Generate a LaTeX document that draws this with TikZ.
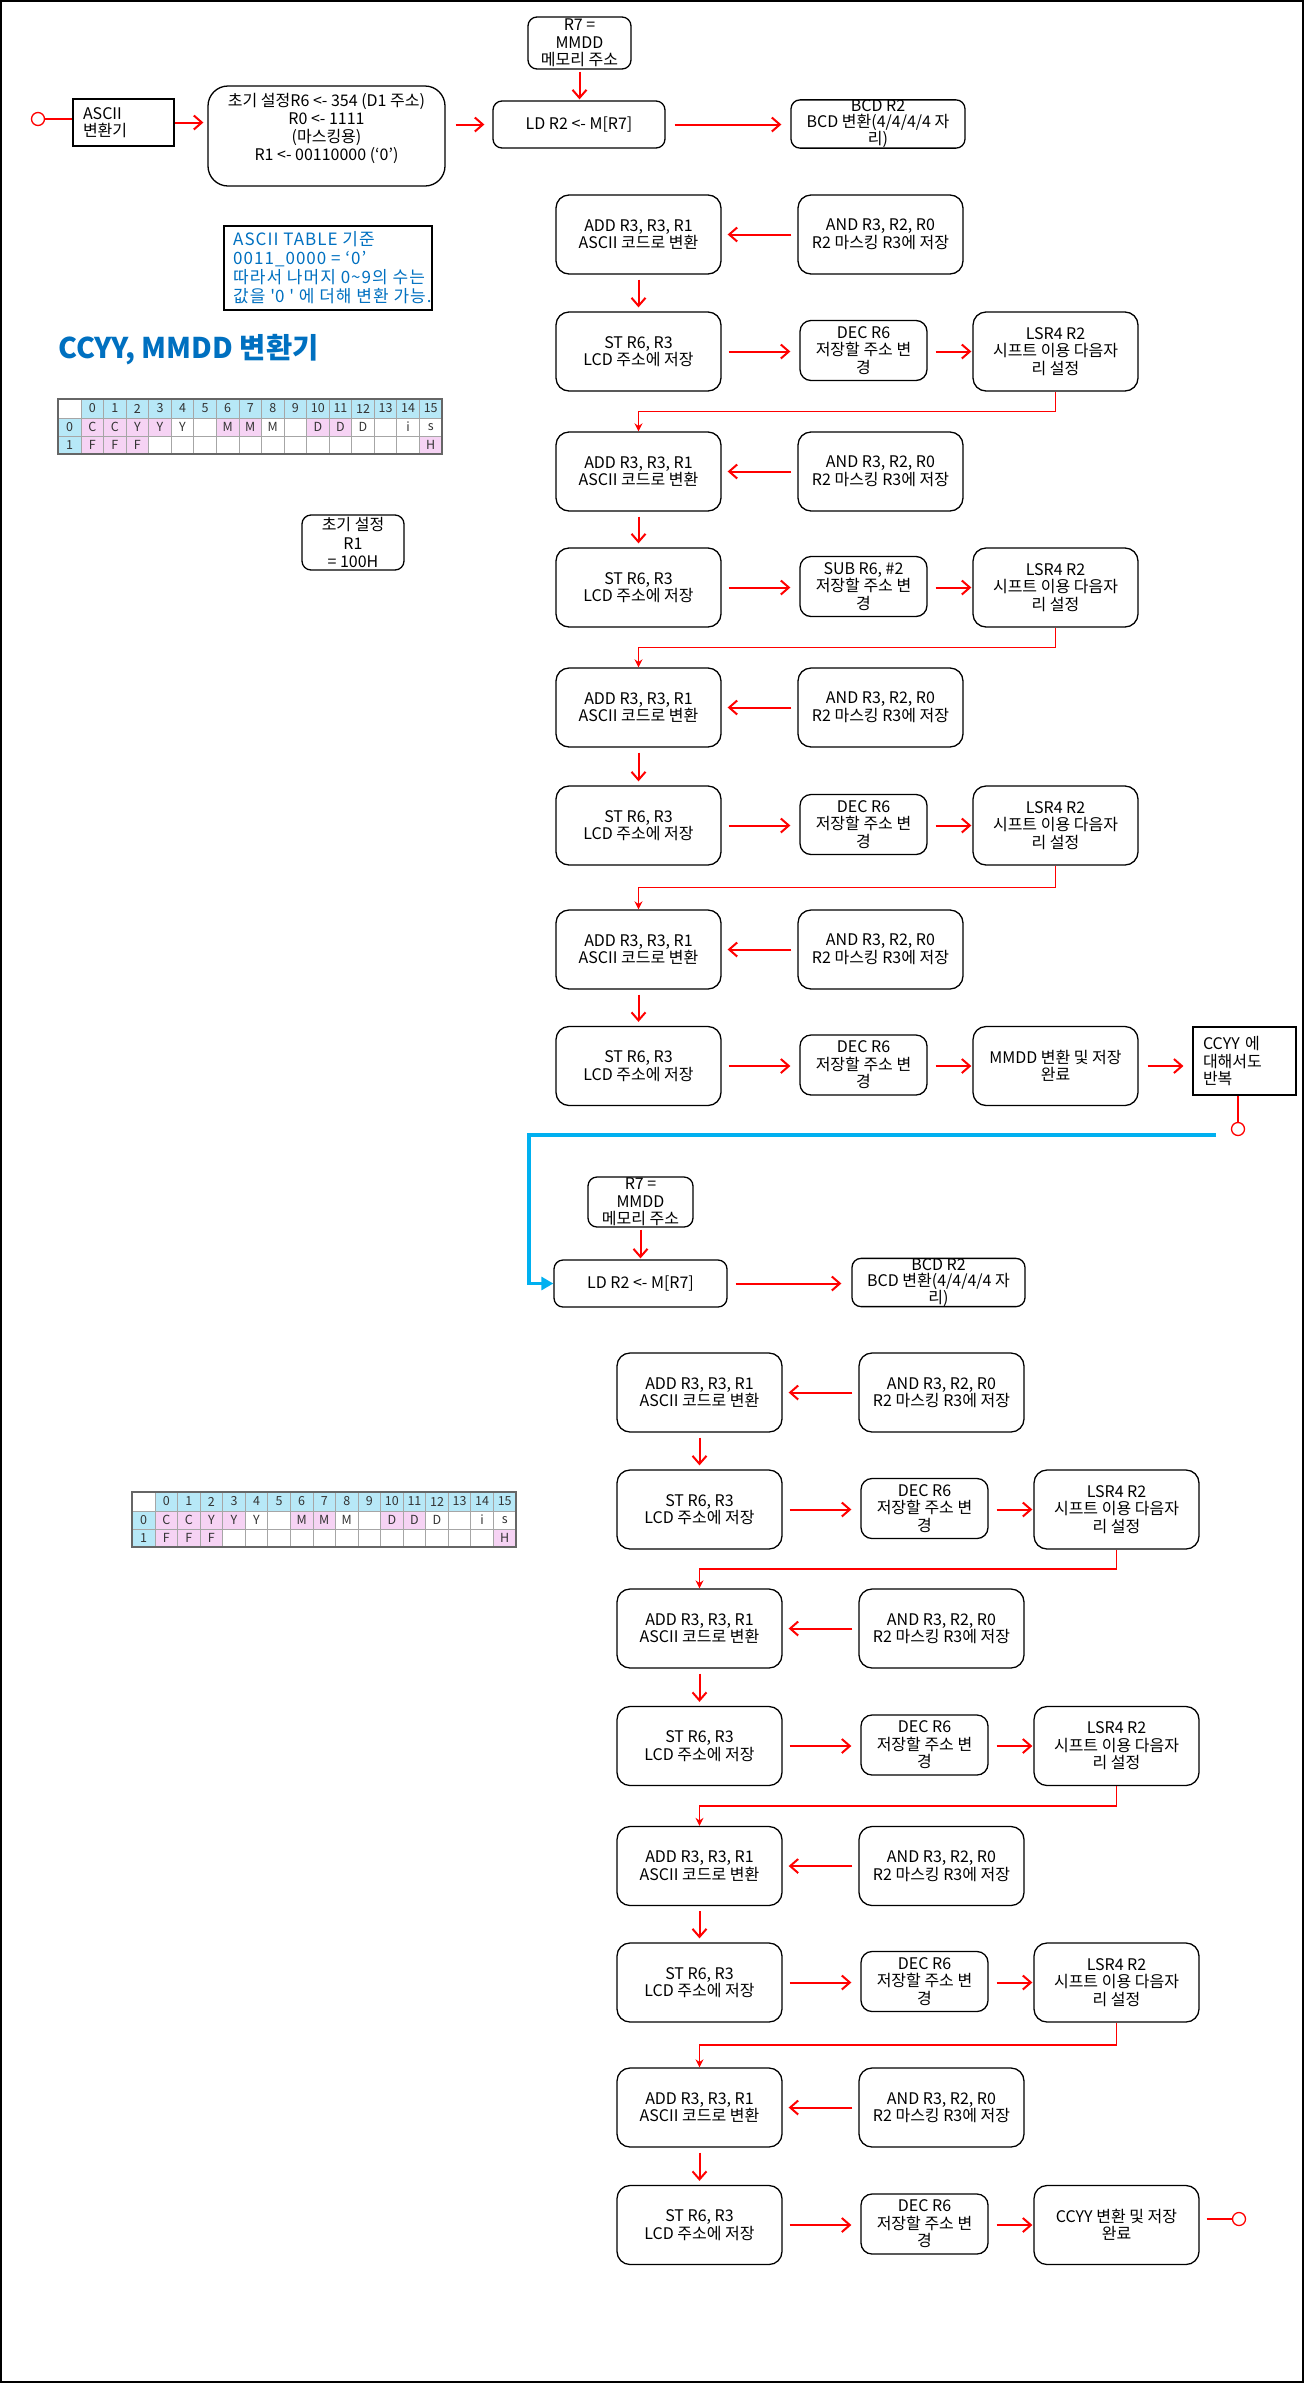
\documentclass[tikz,border=0pt]{standalone}
\usepackage{fontspec}
\setmainfont{Noto Sans CJK KR}
\usetikzlibrary{arrows.meta,calc}

\definecolor{tblue}{HTML}{0070C0}
\definecolor{lineblue}{HTML}{00B0F0}
\definecolor{hdrcyan}{HTML}{B7E8F7}
\definecolor{markpink}{HTML}{F6D3F4}
\definecolor{gridgray}{HTML}{A6A6A6}

\newcommand\boxfnt{\fontsize{16}{17.5}\selectfont}
\newcommand\notefnt{\fontsize{17}{19}\selectfont\addfontfeature{LetterSpace=6}}
\newcommand\cellfnt{\fontsize{12.5}{14}\selectfont}
\newcommand\titlefnt{\fontsize{28.5}{32}\selectfont\bfseries}

\tikzset{
  pbox/.style={draw, line width=1.3pt, align=center, inner sep=0pt, font=\boxfnt},
  big/.style={pbox, rounded corners=13pt, minimum width=165pt, minimum height=79pt},
  mid/.style={pbox, rounded corners=11pt, minimum width=127pt, minimum height=60pt},
  flat/.style={pbox, rounded corners=9pt},
  sq/.style={draw, line width=1.1pt, align=left, inner ysep=0pt, inner xsep=10pt, font=\boxfnt},
  arr/.style={draw=red, line width=2pt, -{Straight Barb[length=8pt,width=14pt]}, shorten <=6pt, shorten >=6pt},
  elbow/.style={draw=red, line width=1.8pt, -{Stealth[length=8pt,width=8pt]}},
  redline/.style={draw=red, line width=2pt},
  term/.style={circle, draw=red, line width=1.3pt, fill=white, minimum size=13pt, inner sep=0pt},
  loopline/.style={draw=lineblue, line width=3.5pt, -{Triangle[length=12pt,width=13pt]}},
  cell/.style={inner sep=0pt, font=\cellfnt, text=black!80},
}

% one conversion step: ADD / AND on the upper row, ST / DEC / next step on the lower row
% #1 id, #2 x of left column, #3 y of upper row, #4 y of lower row, #5 middle text, #6 right text
\newcommand\flowstage[6]{%
  \node[big] (add#1) at (#2,#3) {ADD R3, R3, R1\\ASCII 코드로 변환};
  \node[big] (and#1) at ({#2+242},#3) {AND R3, R2, R0\\R2 마스킹 R3에 저장};
  \node[big] (st#1) at (#2,#4) {ST R6, R3\\LCD 주소에 저장};
  \node[mid] (dec#1) at ({#2+225},{#4-1}) {#5};
  \node[big] (rt#1) at ({#2+417},#4) {#6};
  \draw[arr] (and#1) -- (add#1);
  \draw[arr, shorten <=5pt, shorten >=4pt] (add#1) -- (st#1);
  \draw[arr, shorten <=7pt, shorten >=9pt] (st#1.east) -- (st#1.east -| dec#1.west);
  \draw[arr, shorten <=8pt, shorten >=1pt] (dec#1.east |- st#1) -- (st#1 -| rt#1.west);
}

% memory layout table, #1 name prefix, #2/#3 top-left corner
\newcommand\bittable[3]{%
\begin{scope}[shift={(#2,#3)}]
  \fill[hdrcyan] (23,0) rectangle (384,19);
  \fill[hdrcyan] (0,19) rectangle (23,55);
  \foreach \c in {0,1,2,3,6,7,10,11}
    \fill[markpink] ({23+22.5625*\c},19) rectangle ({23+22.5625*(\c+1)},37);
  \foreach \c in {0,1,2,15}
    \fill[markpink] ({23+22.5625*\c},37) rectangle ({23+22.5625*(\c+1)},55);
  \foreach \c in {0,...,15}
    \draw[gridgray, line width=0.8pt] ({23+22.5625*\c},0) -- ++(0,55);
  \draw[gridgray, line width=0.8pt] (0,19) -- (384,19) (0,37) -- (384,37);
  \draw[black!60, line width=1.2pt] (0,0) rectangle (384,55);
  \foreach \c in {0,...,15}
    \node[cell] (#1h\c) at ({23+22.5625*(\c+0.5)},9.5) {\c};
  \node[cell] (#1r0) at (11.5,28) {0};
  \node[cell] (#1r1) at (11.5,46) {1};
  \foreach \c/\t in {0/C,1/C,2/Y,3/Y,4/Y,6/M,7/M,8/M,10/D,11/D,12/D,14/i,15/s}
    \node[cell] (#1a\c) at ({23+22.5625*(\c+0.5)},28) {\t};
  \foreach \c/\t in {0/F,1/F,2/F,15/H}
    \node[cell] (#1b\c) at ({23+22.5625*(\c+0.5)},46) {\t};
\end{scope}}

\begin{document}
\begin{tikzpicture}[x=1pt, y=-1pt]
\useasboundingbox (0,0) rectangle (1304,2383);
\draw[line width=2pt] (1,1) rectangle (1303,2382);

% ---------- start and set-up ----------
\node[term] (startc) at (38,119) {};
\node[sq, text width=81pt, minimum height=47pt] (ascii) at (123.5,122.5) {ASCII\\변환기};
\node[pbox, rounded corners=20pt, minimum width=237pt, minimum height=100pt,
      font=\fontsize{16}{18.3}\selectfont] (init) at (326.5,136)
  {초기 설정R6 <- 354 (D1 주소)\\R0 <- 1111\\(마스킹용)\\R1 <- 00110000 (`0')\\~};
\node[flat, minimum width=103pt, minimum height=52pt] (r7) at (579.5,43) {R7 =\\MMDD\\메모리 주소};
\node[flat, minimum width=172pt, minimum height=47pt] (ld) at (579,124.5) {LD R2 <- M[R7]};
\node[flat, minimum width=174pt, minimum height=48pt, font=\fontsize{16}{15.8}\selectfont]
  (bcd) at (878,124) {BCD R2\\BCD 변환(4/4/4/4 자\\리)};

\draw[redline] (startc.east) -- (startc -| ascii.west);
\draw[arr, shorten <=0pt, shorten >=4pt] (ascii.east) -- (ascii.east -| init.west);
\draw[arr, shorten <=10pt, shorten >=8pt] (ld.west -| init.east) -- (ld.west);
\draw[arr, shorten <=2pt, shorten >=1pt] (r7.south) -- (r7.south |- ld.north);
\draw[arr, shorten <=9pt, shorten >=9pt] (ld.east) -- (ld.east -| bcd.west);

% ---------- notes on the left ----------
\node[draw, line width=1.3pt, minimum width=208pt, minimum height=84pt, inner sep=0pt] (note) at (328,268) {};
\node[anchor=north west, align=left, inner sep=0pt, font=\notefnt, text=tblue] (notetxt) at (233,231)
  {ASCII TABLE 기준\\0011\_0000 = `0'\\따라서 나머지 0\textasciitilde 9의 수는\\값을 \textquotesingle 0 \textquotesingle\ 에 더해 변환 가능.};
\node[anchor=west, inner sep=0pt, font=\titlefnt, text=tblue] (title) at (58,350) {CCYY, MMDD 변환기};
\bittable{ta}{58}{399}
\node[flat, minimum width=102pt, minimum height=55pt, font=\fontsize{16}{18.5}\selectfont]
  (r1) at (353,542.5) {초기 설정\\R1\\= 100H};
\bittable{tb}{132}{1492}

% ---------- MMDD conversion ----------
\flowstage{1}{638.5}{234.5}{351.5}{DEC R6\\저장할 주소 변\\경}{LSR4 R2\\시프트 이용 다음자\\리 설정}
\flowstage{2}{638.5}{471.5}{587.5}{SUB R6, \#2\\저장할 주소 변\\경}{LSR4 R2\\시프트 이용 다음자\\리 설정}
\flowstage{3}{638.5}{707.5}{825.5}{DEC R6\\저장할 주소 변\\경}{LSR4 R2\\시프트 이용 다음자\\리 설정}
\flowstage{4}{638.5}{949.5}{1066}{DEC R6\\저장할 주소 변\\경}{MMDD 변환 및 저장\\완료}

\node[sq, text width=83pt, minimum height=68pt] (ccyy) at (1244.5,1061) {CCYY 에\\대해서도\\반복};
\draw[arr, shorten <=9pt, shorten >=9pt] (rt4.east) -- (rt4.east -| ccyy.west);
\node[term] (loopc) at (1238,1129) {};
\draw[redline] (loopc.north) -- (loopc.north |- ccyy.south);

% ---------- CCYY conversion ----------
\node[flat, minimum width=105pt, minimum height=50pt] (r7b) at (640.5,1202) {R7 =\\MMDD\\메모리 주소};
\node[flat, minimum width=173pt, minimum height=47pt] (ld2) at (640.5,1283.5) {LD R2 <- M[R7]};
\node[flat, minimum width=173pt, minimum height=47pt, font=\fontsize{16}{15.8}\selectfont]
  (bcd2) at (938.5,1282.5) {BCD R2\\BCD 변환(4/4/4/4 자\\리)};
\draw[arr, shorten <=2pt, shorten >=1pt] (r7b.south) -- (r7b.south |- ld2.north);
\draw[arr, shorten <=8pt, shorten >=10pt] (ld2.east) -- (ld2.east -| bcd2.west);

\coordinate (loopstart) at (1216,1135);
\draw[loopline] (loopstart) -- ++(-687,0) |- (ld2.west);

\flowstage{5}{699.5}{1392.5}{1509.5}{DEC R6\\저장할 주소 변\\경}{LSR4 R2\\시프트 이용 다음자\\리 설정}
\flowstage{6}{699.5}{1628.5}{1746}{DEC R6\\저장할 주소 변\\경}{LSR4 R2\\시프트 이용 다음자\\리 설정}
\flowstage{7}{699.5}{1866}{1982.5}{DEC R6\\저장할 주소 변\\경}{LSR4 R2\\시프트 이용 다음자\\리 설정}
\flowstage{8}{699.5}{2107.5}{2225}{DEC R6\\저장할 주소 변\\경}{CCYY 변환 및 저장\\완료}

\node[term] (endc) at (1239,2219) {};
\draw[redline, shorten <=7pt] (rt8.east |- endc) -- (endc.west);

% hand-over from each shift step to the next digit
\foreach \a/\b in {1/2,2/3,3/4,5/6,6/7,7/8}
  \draw[elbow] (rt\a.south) |- ($(rt\a.south)!.5!(add\b.north)$) -| (add\b.north);
\end{tikzpicture}
\end{document}
